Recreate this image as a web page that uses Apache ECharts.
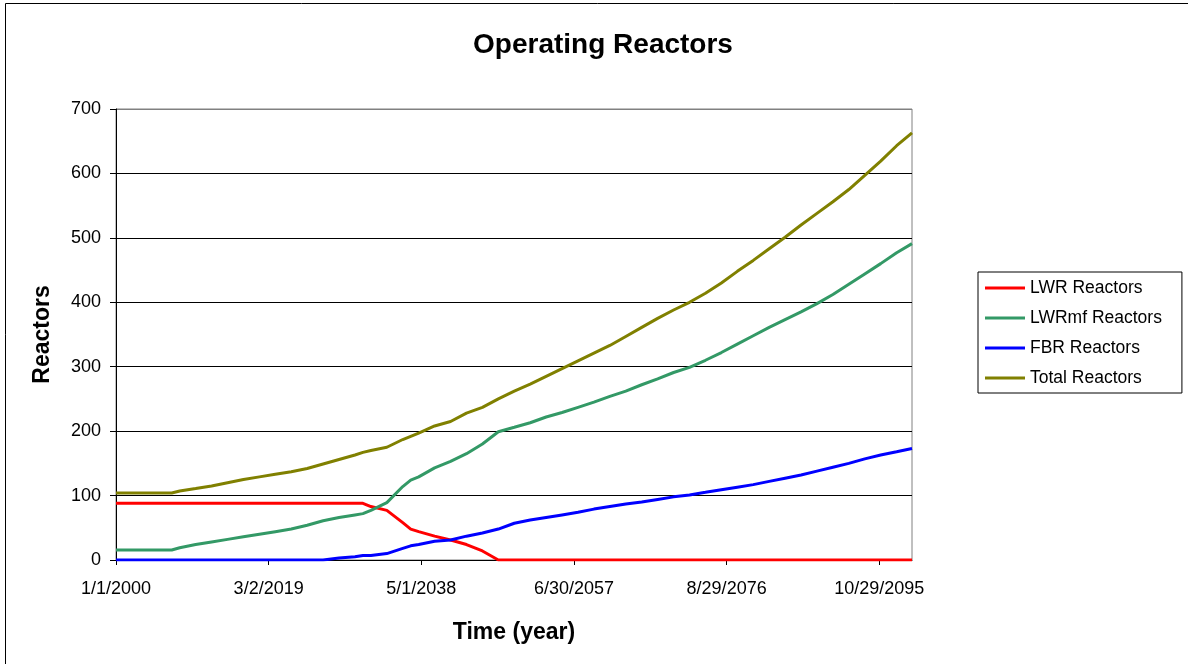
<!DOCTYPE html>
<html>
<head>
<meta charset="utf-8">
<script src="https://cdn.jsdelivr.net/npm/echarts@6/dist/echarts.min.js"></script>
<style>
  html, body { margin: 0; padding: 0; background: #fff; }
  #main { width: 1188px; height: 664px; }
</style>
</head>
<body>
<div id="main"></div>
<script>
// days since 1/1/2000 (roughly every 2 years, plus the kinks)
var days = [0, 730, 1461, 2191, 2557, 2922, 3653, 4383, 5114, 5844, 6575, 7305, 8036, 8766,
  9497, 10227, 10958, 11323, 11688, 12419, 13149, 13514, 13880, 14610, 15341, 16071, 16802,
  17532, 18263, 18993, 19724, 20454, 21185, 21915, 22646, 23376, 24107, 24837, 25568, 26298,
  27029, 27759, 28490, 29220, 29951, 30681, 31412, 32142, 32873, 33603, 34334, 35064, 35795, 36500];

var lwr = [88, 88, 88, 88, 88, 88, 88, 88, 88, 88, 88, 88, 88, 88,
  88, 88, 88, 88, 83, 77, 58, 48, 44, 37, 31, 24, 14,
  0, 0, 0, 0, 0, 0, 0, 0, 0, 0, 0, 0, 0,
  0, 0, 0, 0, 0, 0, 0, 0, 0, 0, 0, 0, 0, 0];

var lwrmf = [15.5, 15.5, 15.5, 15.5, 15.5, 19, 24, 28, 32, 36, 40, 44, 48, 54,
  61, 66, 70, 72, 77, 89, 114, 124, 129, 143, 153, 165, 180,
  199, 206, 213, 222, 229, 237, 245, 254, 262, 272, 281, 291, 299,
  310, 322, 335, 348, 361, 373, 385, 398, 412, 428, 444, 460, 477, 491];

var fbr = [0, 0, 0, 0, 0, 0, 0, 0, 0, 0, 0, 0, 0, 0,
  0, 3, 5, 7, 7, 10, 18, 22, 24, 29, 31, 37, 42,
  48, 57, 62, 66, 70, 74, 79, 83, 87, 90, 94, 98, 101,
  105, 109, 113, 117, 122, 127, 132, 138, 144, 150, 157, 163, 168, 173];

var total = [104, 104, 104, 104, 104, 107, 111, 115, 120, 125, 129, 133, 137, 142,
  149, 156, 163, 167, 170, 175, 187, 192, 197, 208, 215, 228, 237,
  250, 262, 273, 285, 297, 309, 321, 333, 347, 361, 375, 388, 400,
  414, 430, 448, 465, 483, 501, 520, 538, 556, 575, 597, 619, 643, 663];

var tickDays = [0, 7000, 14000, 21000, 28000, 35000];
var tickLabels = ['1/1/2000', '3/2/2019', '5/1/2038', '6/30/2057', '8/29/2076', '10/29/2095'];

var names = ['LWR Reactors', 'LWRmf Reactors', 'FBR Reactors', 'Total Reactors'];
var colors = ['#ff0000', '#339966', '#0000ff', '#808000'];

function pairs(vals) {
  var out = [];
  for (var i = 0; i < days.length; i++) out.push([days[i], vals[i]]);
  return out;
}

var font = 'Liberation Sans, Arial, sans-serif';
var chart = echarts.init(document.getElementById('main'));

var series = [lwr, lwrmf, fbr, total].map(function (vals, i) {
  return {
    name: names[i],
    type: 'line',
    data: pairs(vals),
    showSymbol: false,
    lineStyle: { width: 3, color: colors[i] },
    itemStyle: { color: colors[i] },
    animation: false
  };
});

var option = {
  backgroundColor: '#fff',
  animation: false,
  color: colors,
  title: {
    text: 'Operating Reactors',
    left: 598,
    top: 26,
    textAlign: 'center',
    textStyle: { fontFamily: font, fontSize: 28, fontWeight: 'bold', color: '#000' }
  },
  graphic: [{
    type: 'rect',
    shape: { x: 5.5, y: 3.5, width: 1300, height: 800 },
    style: { fill: 'none', stroke: '#000', lineWidth: 1 },
    silent: true
  }],
  legend: {
    orient: 'vertical',
    left: 978,
    top: 272,
    padding: [7, 20, 6, 7],
    itemWidth: 40,
    itemHeight: 3,
    itemGap: 12,
    borderColor: '#000',
    borderWidth: 1,
    icon: 'rect',
    data: names,
    textStyle: { fontFamily: font, fontSize: 17.5, color: '#000' }
  },
  grid: {
    left: 116,
    top: 109,
    right: 276,
    bottom: 104,
    show: true,
    borderColor: '#808080',
    borderWidth: 1,
    containLabel: false
  },
  xAxis: {
    type: 'value',
    min: 0,
    max: 36500,
    interval: 7000,
    name: 'Time (year)',
    nameLocation: 'middle',
    nameGap: 61,
    nameTextStyle: { fontFamily: font, fontSize: 23, fontWeight: 'bold', color: '#000' },
    axisLine: { lineStyle: { color: '#000', width: 1 } },
    axisTick: { show: true, length: 5, customValues: tickDays, lineStyle: { color: '#000' } },
    axisLabel: {
      customValues: tickDays,
      margin: 20,
      fontFamily: font,
      fontSize: 18,
      color: '#000',
      formatter: function (v) {
        var i = tickDays.indexOf(v);
        return i >= 0 ? tickLabels[i] : '';
      }
    },
    splitLine: { show: false }
  },
  yAxis: {
    type: 'value',
    min: 0,
    max: 700,
    interval: 100,
    name: 'Reactors',
    nameLocation: 'middle',
    nameGap: 62,
    nameTextStyle: { fontFamily: font, fontSize: 23, fontWeight: 'bold', color: '#000' },
    axisLine: { show: true, lineStyle: { color: '#000', width: 1 } },
    axisTick: { show: true, length: 6, lineStyle: { color: '#000' } },
    axisLabel: { margin: 15, fontFamily: font, fontSize: 18, color: '#000' },
    splitLine: {
      show: true,
      lineStyle: { color: ['#000', '#000', '#000', '#000', '#000', '#000', '#000', '#808080'], width: 1 }
    }
  },
  series: series
};

chart.setOption(option);
</script>
</body>
</html>
